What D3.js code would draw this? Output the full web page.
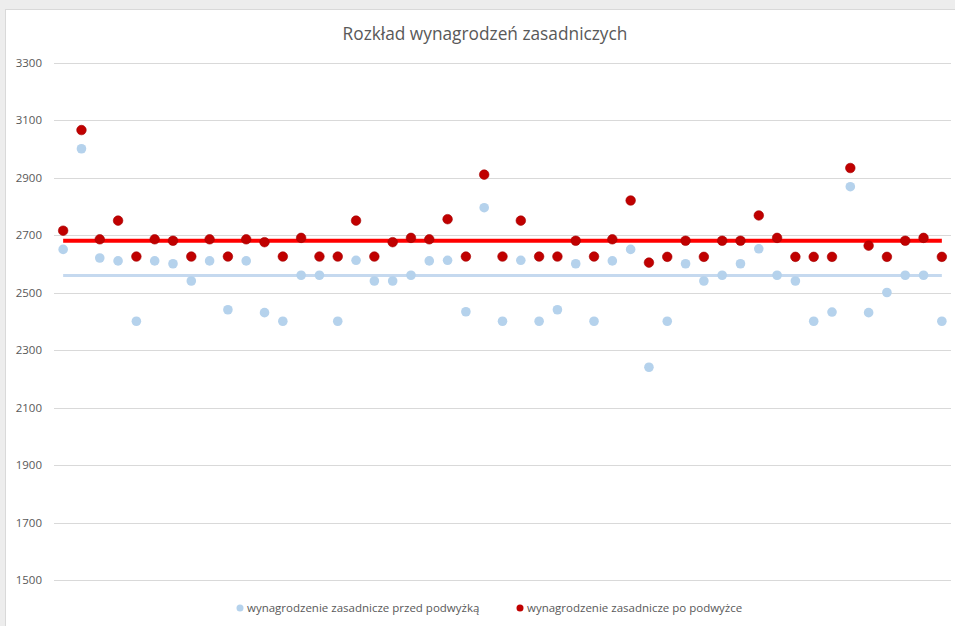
<!DOCTYPE html>
<html><head><meta charset="utf-8">
<script src="https://cdn.jsdelivr.net/npm/d3@7/dist/d3.min.js"></script>
<style>
html,body{margin:0;padding:0;background:#fff;}
svg{display:block;font-family:"Open Sans","Noto Sans",sans-serif;}
</style></head><body>
<svg id="c" width="955" height="626"></svg>
<script>
const title = "Rozkład wynagrodzeń zasadniczych";
const seriesNames = ["wynagrodzenie zasadnicze przed podwyżką", "wynagrodzenie zasadnicze po podwyżce"];
const before = [2650,3000,2620,2610,2400,2610,2600,2540,2610,2440,2610,2430,2400,2560,2560,2400,2612,2540,2540,2560,2610,2612,2433,2795,2400,2612,2400,2440,2600,2400,2610,2650,2240,2400,2600,2540,2560,2600,2652,2560,2540,2400,2432,2868,2430,2500,2560,2560,2400];
const after  = [2715,3065,2685,2750,2625,2685,2680,2625,2685,2625,2685,2675,2625,2690,2625,2625,2750,2625,2675,2690,2685,2755,2625,2910,2625,2750,2625,2625,2680,2625,2685,2820,2604,2624,2680,2624,2680,2680,2768,2690,2624,2624,2624,2933,2663,2624,2680,2690,2624];
const avgBefore = 2559;
const avgAfter = 2680;
const yTicks = [1500,1700,1900,2100,2300,2500,2700,2900,3100,3300];

const svg = d3.select("#c");
// chart frame
svg.append("rect").attr("x",0).attr("y",0).attr("width",955).attr("height",9).attr("fill","#ededed");
svg.append("rect").attr("x",0).attr("y",9).attr("width",5).attr("height",617).attr("fill","#ededed");
svg.append("rect").attr("x",5.5).attr("y",9.5).attr("width",960).attr("height",630).attr("fill","#fff").attr("stroke","#d9d9d9");

const idx = d3.range(before.length);
const x = d3.scalePoint().domain(idx).range([54,951]).padding(0.5);
const y = d3.scaleLinear().domain([1500,3300]).range([580,62.5]);

// gridlines
svg.append("g").selectAll("line").data(yTicks).join("line")
  .attr("x1",54).attr("x2",951)
  .attr("y1",d=>Math.round(y(d))+0.5).attr("y2",d=>Math.round(y(d))+0.5)
  .attr("stroke","#d9d9d9").attr("stroke-width",1);
const yAxis = d3.axisLeft(y).tickValues(yTicks).tickFormat(d3.format("d")).tickSize(0).tickPadding(0);
const gy = svg.append("g").attr("transform","translate(42,0)").call(yAxis);
gy.select(".domain").remove();
gy.selectAll("text").attr("fill","#595959").style("font-size","11.5px").style("font-family","'Open Sans',sans-serif");

// average lines
const line = d3.line().x(d=>x(d[0])).y(d=>y(d[1]));
svg.append("path").datum(idx.map(i=>[i,avgBefore])).attr("d",line)
  .attr("fill","none").attr("stroke","#c5d9ef").attr("stroke-width",3);
svg.append("path").datum(idx.map(i=>[i,avgAfter])).attr("d",line)
  .attr("fill","none").attr("stroke","#ff0000").attr("stroke-width",4);

// points
svg.append("g").selectAll("circle").data(before).join("circle")
  .attr("cx",(d,i)=>x(i)).attr("cy",d=>y(d)).attr("r",4.8)
  .attr("fill","#b5d2ec");
svg.append("g").selectAll("circle").data(after).join("circle")
  .attr("cx",(d,i)=>x(i)).attr("cy",d=>y(d)).attr("r",4.8)
  .attr("fill","#c00000").attr("stroke","#a50000").attr("stroke-width",0.6);

// title
svg.append("text").attr("x",485).attr("y",40).attr("text-anchor","middle")
  .attr("fill","#595959").style("font-size","17.3px").text(title);

// legend
const leg = [{x:240,c:"#b5d2ec",t:seriesNames[0]},{x:520,c:"#c00000",t:seriesNames[1]}];
const lg = svg.append("g");
lg.selectAll("circle").data(leg).join("circle").attr("cx",d=>d.x).attr("cy",608).attr("r",3.5).attr("fill",d=>d.c);
lg.selectAll("text").data(leg).join("text").attr("x",d=>d.x+7).attr("y",612)
  .attr("fill","#595959").style("font-size","11.5px").text(d=>d.t);
</script></body></html>
